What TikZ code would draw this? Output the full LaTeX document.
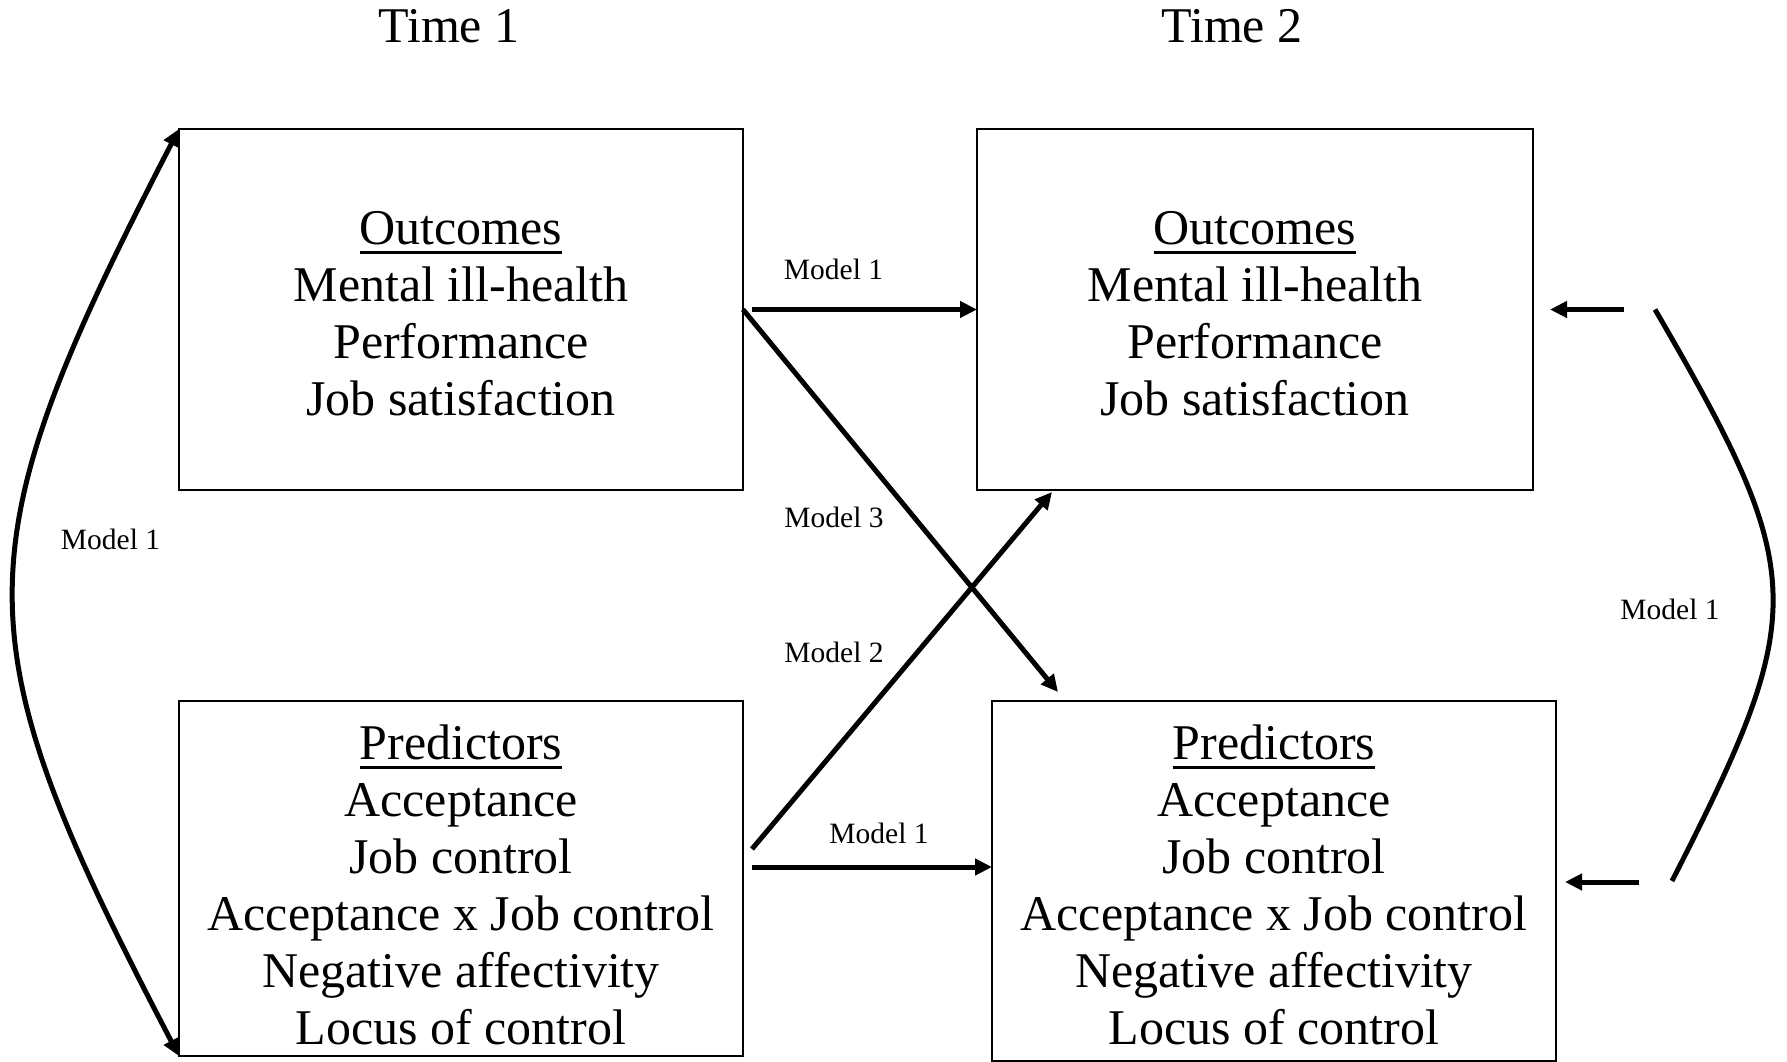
\documentclass[tikz,border=0pt]{standalone}
\usepackage{fontspec}
\setmainfont{Liberation Serif}
\usetikzlibrary{arrows.meta}
\newcommand{\myuline}[1]{\setbox0\hbox{#1}\rlap{\rule[-9.5pt]{\wd0}{3pt}}\box0}
\begin{document}
\begin{tikzpicture}[x=1pt,y=-1pt,
  box/.style={draw, line width=2pt, inner sep=0pt, outer sep=0pt},
  boxtext/.style={align=center, inner sep=0pt, anchor=north, font=\fontsize{50}{57}\selectfont},
  timelabel/.style={anchor=base, inner sep=0pt, font=\fontsize{50}{57}\selectfont},
  mlabel/.style={anchor=base, inner sep=0pt, font=\fontsize{29.5}{35}\selectfont},
  tip/.tip={Triangle[length=17pt,width=16pt]},
  conn/.style={line width=5pt, -tip},
  bareline/.style={line width=5pt}
]
\fill[white, use as bounding box] (0,0) rectangle (1787,1062);

% boxes
\node[box, minimum width=564pt, minimum height=361pt] (tl) at (461,309.5) {};
\node[box, minimum width=556pt, minimum height=361pt] (tr) at (1255,309.5) {};
\node[box, minimum width=564pt, minimum height=355pt] (bl) at (461,878.5) {};
\node[box, minimum width=564pt, minimum height=360pt] (br) at (1274,881) {};

% box texts
\node[boxtext] (tlt) at (461,204) {\strut\myuline{Outcomes}\\Mental ill-health\\Performance\\Job satisfaction};
\node[boxtext] (trt) at (1255,204) {\strut\myuline{Outcomes}\\Mental ill-health\\Performance\\Job satisfaction};
\node[boxtext] (blt) at (461,719) {\strut\myuline{Predictors}\\Acceptance\\Job control\\Acceptance x Job control\\Negative affectivity\\Locus of control};
\node[boxtext] (brt) at (1274,719) {\strut\myuline{Predictors}\\Acceptance\\Job control\\Acceptance x Job control\\Negative affectivity\\Locus of control};

% time labels
\node[timelabel] (t1) at (449,43) {Time 1};
\node[timelabel] (t2) at (1232,43) {Time 2};

% model labels
\node[mlabel] (m1a) at (833.5,279) {Model 1};
\node[mlabel] (m3) at (834,527) {Model 3};
\node[mlabel] (m2) at (834,662) {Model 2};
\node[mlabel] (m1b) at (879,843) {Model 1};
\node[mlabel] (m1l) at (110.5,549) {Model 1};
\node[mlabel] (m1r) at (1670,619) {Model 1};

% connectors
\draw[conn] ([xshift=9pt]tl.east) -- (tr.west);
\draw[conn] (tl.east) -- ([xshift=66pt,yshift=9pt]br.north west);
\draw[conn] ([xshift=9pt,yshift=29.5pt]bl.east) -- ([xshift=75pt,yshift=-2pt]tr.south west);
\draw[conn] ([xshift=9pt,yshift=11.5pt]bl.east) -- ([yshift=14pt]br.west);

\draw[line width=5pt, tip-tip] (tl.north west) .. controls (-41,555) and (-41,635) .. (bl.south west);

\draw[bareline] ([xshift=122pt]tr.east) .. controls (1809.5,575) and (1809.5,611) .. ([xshift=116pt]br.east);
\draw[conn] ([xshift=91pt]tr.east) -- ([xshift=17pt]tr.east);
\draw[conn] ([xshift=83pt,yshift=-1pt]br.east) -- ([xshift=9pt,yshift=-1pt]br.east);
\end{tikzpicture}
\end{document}
